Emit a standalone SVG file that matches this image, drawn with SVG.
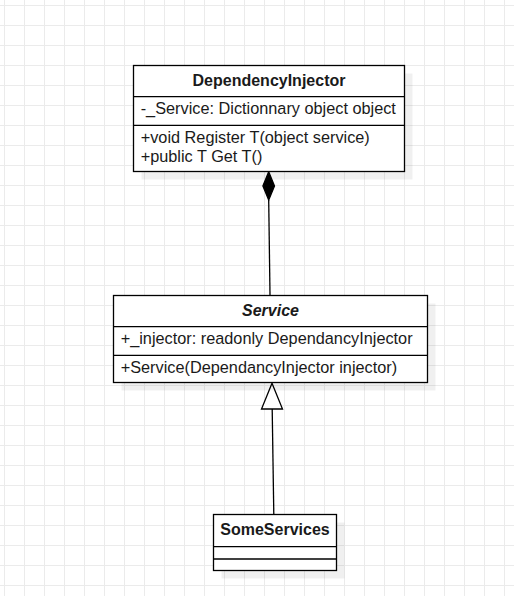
<svg xmlns="http://www.w3.org/2000/svg" width="514" height="596" viewBox="0 0 514 596">
<defs>
<pattern id="grid" width="20" height="20" patternUnits="userSpaceOnUse" x="4" y="5">
<path d="M0.5 0 V20 M0 0.5 H20" fill="none" stroke="#ebebeb" stroke-width="1"/>
</pattern>
</defs>
<style>
.box{fill:#fff;stroke:#000;stroke-width:1.3}
.shadow{fill:#000;fill-opacity:0.06}
.sep{stroke:#000;stroke-width:1.3}
.t{font-family:"Liberation Sans",Arial,sans-serif;font-size:16.3px;fill:#1a1a1a}
.title{font-weight:bold;text-anchor:middle;font-size:16px}
.conn{fill:none;stroke:#000;stroke-width:1.3}
</style>
<rect width="514" height="596" fill="#fff"/>
<rect width="514" height="596" fill="url(#grid)"/>
<g id="connectors">
<path class="conn" d="M268.7 200 L270 295.3"/>
<path d="M268.7 171.7 L274.5 186 L268.7 200 L262.9 186 Z" fill="#000" stroke="#000" stroke-width="1.3"/>
<path class="conn" d="M272.2 409 L273.8 514.7"/>
<path d="M272 383.3 L282.5 409 L261.5 409 Z" fill="#fff" stroke="#000" stroke-width="1.3"/>
</g>
<g id="DependencyInjector">
<rect class="shadow" x="141.5" y="73.5" width="271" height="106"/>
<rect class="box" x="133.5" y="65.5" width="271" height="106"/>
<line class="sep" x1="133.5" y1="96.7" x2="404.5" y2="96.7"/>
<line class="sep" x1="133.5" y1="125.3" x2="404.5" y2="125.3"/>
<text class="t title" x="269" y="86">DependencyInjector</text>
<text class="t" x="140.7" y="114.3">-_Service: Dictionnary object object</text>
<text class="t" x="140.7" y="143.3">+void Register T(object service)</text>
<text class="t" x="140.7" y="162.3">+public T Get T()</text>
</g>
<g id="Service">
<rect class="shadow" x="121.5" y="303.5" width="314" height="87"/>
<rect class="box" x="113.5" y="295.5" width="314" height="87"/>
<line class="sep" x1="113.5" y1="326.7" x2="427.5" y2="326.7"/>
<line class="sep" x1="113.5" y1="355.3" x2="427.5" y2="355.3"/>
<text class="t title" x="270.5" y="315.7" font-style="italic">Service</text>
<text class="t" x="120.7" y="344.3">+_injector: readonly DependancyInjector</text>
<text class="t" x="120.7" y="373.3">+Service(DependancyInjector injector)</text>
</g>
<g id="SomeServices">
<rect class="shadow" x="221.5" y="522.5" width="123" height="56"/>
<rect class="box" x="213.5" y="514.5" width="123" height="56"/>
<line class="sep" x1="213.5" y1="546.7" x2="336.5" y2="546.7"/>
<line class="sep" x1="213.5" y1="559" x2="336.5" y2="559"/>
<text class="t title" x="275" y="535">SomeServices</text>
</g>
</svg>
